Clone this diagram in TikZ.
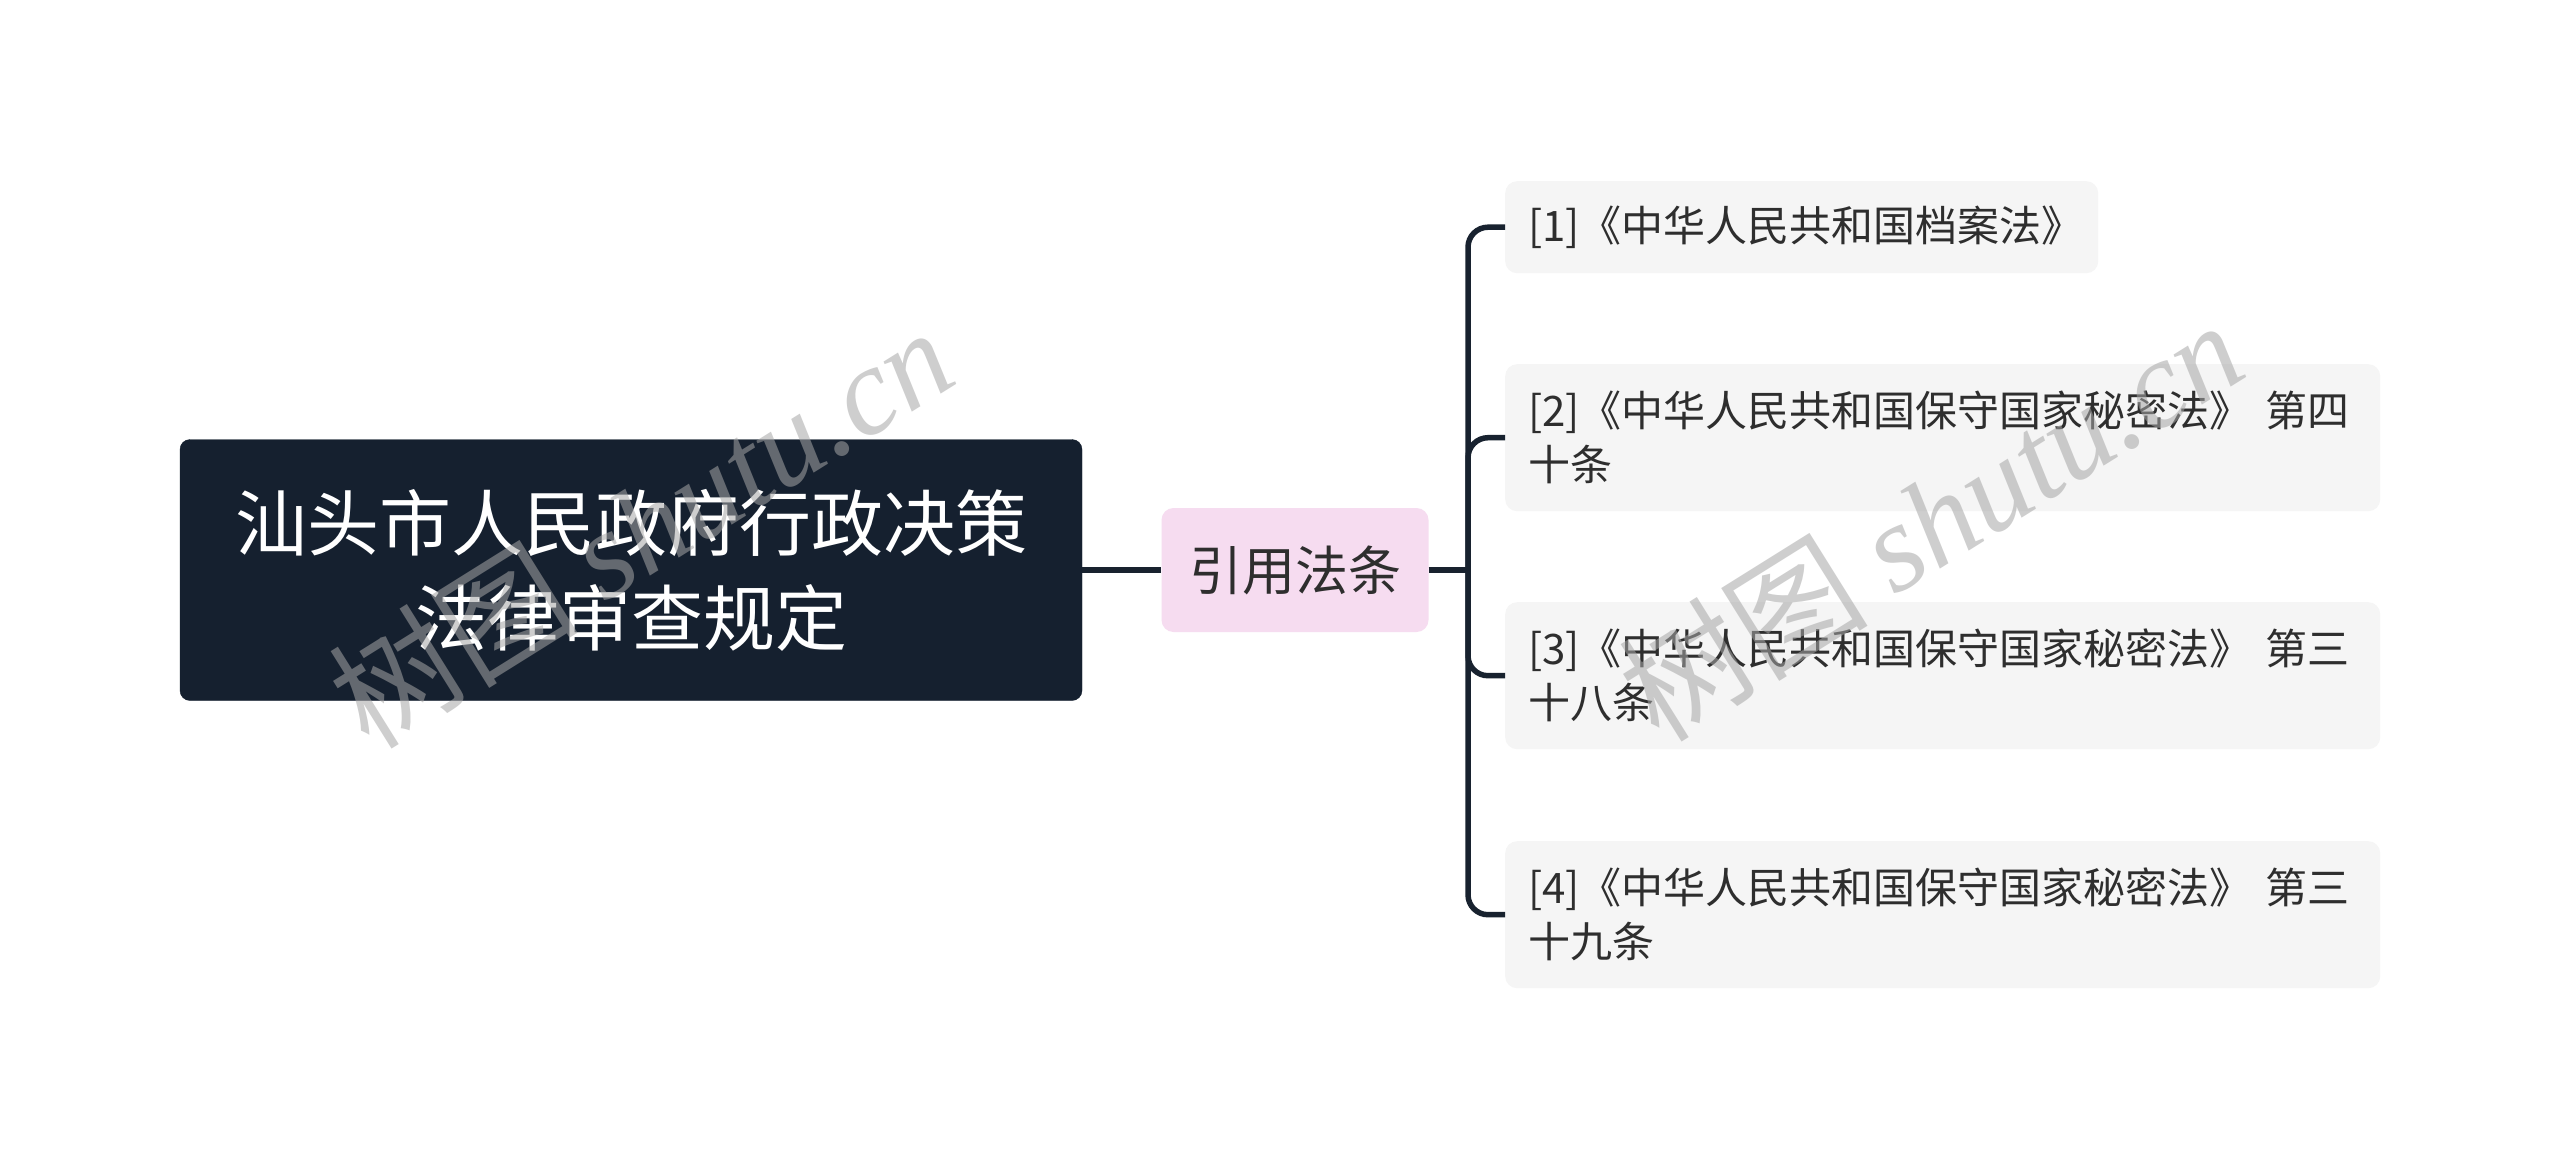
\documentclass[tikz,border=0pt]{standalone}
\usepackage{fontspec}
\setmainfont{Noto Sans CJK SC}
\newfontfamily\wmserif{Liberation Serif}
\definecolor{navy}{HTML}{15202F}
\definecolor{conncol}{HTML}{18222F}
\definecolor{pinkfill}{HTML}{F6DCF0}
\definecolor{greyfill}{HTML}{F5F5F5}
\definecolor{txt}{HTML}{2E2E2E}
\tikzset{
  rootbox/.style={draw=navy, fill=navy, rounded corners=10pt, minimum width=902pt, minimum height=261pt,
    inner sep=0pt, align=center, text=white, font=\fontsize{72pt}{95pt}\selectfont},
  midbox/.style={fill=pinkfill, rounded corners=12pt, minimum width=267pt, minimum height=124pt,
    inner sep=0pt, text=txt, font=\fontsize{53pt}{64pt}\selectfont},
  leafbox/.style={fill=greyfill, rounded corners=12pt, anchor=north west, inner xsep=23pt, inner ysep=0pt,
    align=left, text=txt, font=\fontsize{42pt}{54pt}\selectfont},
  conn/.style={draw=conncol, line width=5.5pt},
  wm/.style={rotate=32, text=gray!70, opacity=0.55, font=\fontsize{125pt}{130pt}\selectfont, inner sep=0pt}
}
\begin{document}
\begin{tikzpicture}[x=1pt,y=1pt]
\useasboundingbox (0,0) rectangle (2560,-1167);
\fill[white] (0,0) rectangle (2560,-1167);

\node[rootbox] (root) at (631,-570) {汕头市人民政府行政决策\\法律审查规定};
\node[midbox] (mid) at (1295,-570) {引用法条};

\node[leafbox, text width=547pt, minimum height=92pt] (c1) at (1505,-181) {[1]《中华人民共和国档案法》};
\node[leafbox, text width=829pt, minimum height=147pt] (c2) at (1505,-364) {[2]《中华人民共和国保守国家秘密法》 第四\\十条};
\node[leafbox, text width=829pt, minimum height=147pt] (c3) at (1505,-602) {[3]《中华人民共和国保守国家秘密法》 第三\\十八条};
\node[leafbox, text width=829pt, minimum height=147pt] (c4) at (1505,-841) {[4]《中华人民共和国保守国家秘密法》 第三\\十九条};

\coordinate (jn) at (1468,-570);
\draw[conn] (root.east) -- (mid.west);
\draw[conn] (mid.east) -- (jn);
\foreach \c in {c1,c2,c3,c4}{
  \draw[conn, rounded corners=20pt] (jn) |- (\c.west);
}

\node[wm] (wm1) at (640,-526) {树图 {\wmserif\itshape shutu.cn}};
\node[wm] (wm2) at (1930,-519) {树图 {\wmserif\itshape shutu.cn}};
\end{tikzpicture}
\end{document}
